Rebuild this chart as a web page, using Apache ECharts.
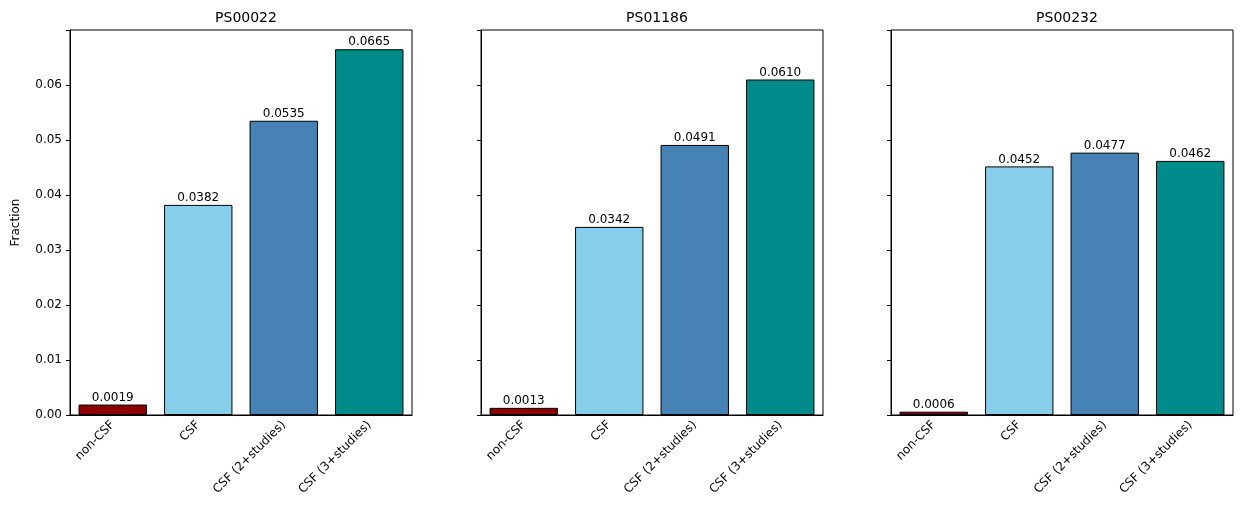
<!DOCTYPE html>
<html>
<head>
<meta charset="utf-8">
<script src="https://cdn.jsdelivr.net/npm/echarts@6/dist/echarts.min.js"></script>
<style>html,body{margin:0;padding:0;background:#fff}#graph{width:1242px;height:524px}</style>
</head>
<body>
<div id="graph"></div>
<script>
var categories = ['non-CSF', 'CSF', 'CSF (2+studies)', 'CSF (3+studies)'];
var titles = ['PS00022', 'PS01186', 'PS00232'];
var values = [
    [0.0019, 0.0382, 0.0535, 0.0665],
    [0.0013, 0.0342, 0.0491, 0.0610],
    [0.0006, 0.0452, 0.0477, 0.0462]
];
var colors = ['#8b0000', '#87ceeb', '#4682b4', '#008b8b'];
var lefts = [70, 481, 891];

var chart = echarts.init(document.getElementById('graph'));
var font = 'DejaVu Sans';

var option = {
    textStyle: { fontFamily: font },
    title: [], grid: [], xAxis: [], yAxis: [], series: []
};

for (var i = 0; i < 3; i++) {
    option.title.push({
        text: titles[i], left: lefts[i] + 171, top: 6, textAlign: 'center',
        textStyle: { fontSize: 14, fontWeight: 'normal', color: '#000', fontFamily: font }
    });
    option.grid.push({
        left: lefts[i], width: 342, top: 30, bottom: 109,
        show: true, borderColor: '#000', borderWidth: 1
    });
    option.xAxis.push({
        type: 'category', gridIndex: i, data: categories,
        axisLine: { lineStyle: { color: '#000' } },
        axisTick: { alignWithLabel: true, length: 4, lineStyle: { color: '#000' } },
        axisLabel: { rotate: 45, color: '#000', fontSize: 12, margin: 8, interval: 0 }
    });
    option.yAxis.push({
        type: 'value', gridIndex: i, min: 0, max: 0.07, interval: 0.01,
        name: i == 0 ? 'Fraction' : '', nameLocation: 'middle', nameGap: 48,
        nameTextStyle: { color: '#000', fontSize: 12 },
        splitLine: { show: false },
        axisLine: { show: true, lineStyle: { color: '#000' } },
        axisTick: { show: true, length: 4, lineStyle: { color: '#000' } },
        axisLabel: {
            show: i == 0, color: '#000', fontSize: 12,
            formatter: function (v) { return v >= 0.0699 ? '' : v.toFixed(2); }
        }
    });
    option.series.push({
        type: 'bar', xAxisIndex: i, yAxisIndex: i, barCategoryGap: '20%',
        data: values[i].map(function (v, j) {
            return { value: v, itemStyle: { color: colors[j] } };
        }),
        itemStyle: { borderColor: '#000', borderWidth: 1 },
        label: {
            show: true, position: 'top', distance: 1, color: '#000', fontSize: 12,
            formatter: function (p) { return p.value.toFixed(4); }
        }
    });
}

chart.setOption(option);
</script>
</body>
</html>
